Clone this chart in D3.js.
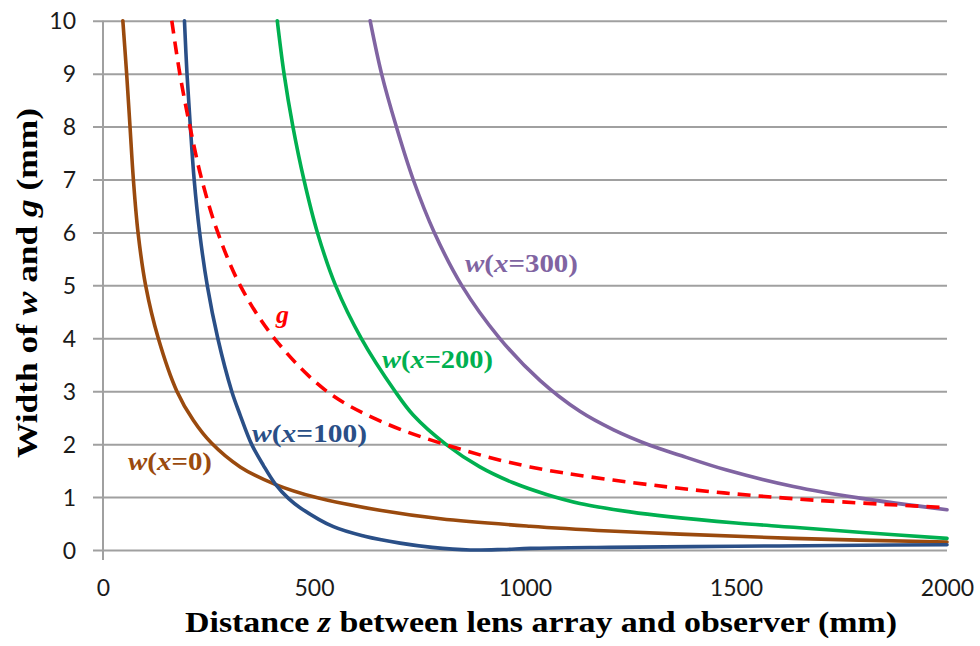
<!DOCTYPE html>
<html>
<head>
<meta charset="utf-8">
<script src="https://cdn.jsdelivr.net/npm/d3@7"></script>
<style>
  html, body { margin: 0; padding: 0; background: #fff; }
  svg { display: block; }
</style>
</head>
<body>
<svg id="chart" width="980" height="646"></svg>
<script>
// ---- data ----
const xTicks = [0, 500, 1000, 1500, 2000];
const yTicks = [0, 1, 2, 3, 4, 5, 6, 7, 8, 9, 10];

// [z (mm), width (mm)]
const wX0 = [[47,10],[56,9],[64,8],[72,7],[83,6],[101,5],[131,4],[175,3],[214,2.45],[257,2.02],[325,1.57],[408,1.24],[506,0.99],[656,0.75],[800,0.59],[1012,0.45],[1200,0.36],[1367,0.3],[1635,0.22],[2000,0.15]];
const wX100 = [[193,10],[199,9],[207,8],[216,7],[229,6],[247,5],[272,4],[305,3],[325,2.55],[352,2.0],[380,1.6],[408,1.25],[440,0.97],[467,0.8],[546,0.44],[620,0.26],[704,0.13],[780,0.05],[870,0.0],[950,0.01],[1012,0.03],[1200,0.05],[1500,0.07],[1800,0.09],[2000,0.1]];
const gSeries = [[163,10],[182,9],[206,8],[234,7],[272,6],[325,5],[406,4],[530,3],[656,2.44],[820,1.97],[1012,1.57],[1340,1.19],[1635,0.97],[2000,0.8]];
const wX200 = [[413,10],[429,9],[450,8],[476,7],[508,6],[551,5],[612,4],[692,3],[735,2.55],[812,2.0],[893,1.57],[972,1.27],[1051,1.05],[1130,0.88],[1249,0.72],[1340,0.63],[1500,0.51],[1636,0.43],[1800,0.33],[2000,0.22]];
const wX300 = [[633,10],[660,9],[695,8],[735,7],[785,6],[850,5],[940,4],[1036,3.2],[1130,2.62],[1210,2.27],[1296,1.98],[1367,1.79],[1478,1.51],[1636,1.2],[1794,0.98],[2000,0.76]];

const seriesNames = ["x=0", "x=100", "x=200", "x=300", "g"];
const seriesColors = ["#9A4A0E", "#2A4F87", "#00B050", "#8064A2", "#FF0000"];

// ---- layout ----
const svg = d3.select("#chart");
const X = d3.scaleLinear().domain([0, 2000]).range([103, 947]);
const Y = d3.scaleLinear().domain([0, 10]).range([550, 20.7]);

svg.append("rect").attr("width", 980).attr("height", 646).attr("fill", "#fff");

svg.append("defs").append("clipPath").attr("id", "plotclip")
  .append("rect").attr("x", X(0)).attr("y", Y(10) - 3)
  .attr("width", X(2000) - X(0) + 4).attr("height", Y(0) - Y(10) + 6);

// gridlines via axis
const yGrid = d3.axisLeft(Y).tickValues(yTicks).tickSize(-(X(2000) - X(0)) - 10).tickFormat("");
const gGrid = svg.append("g").attr("transform", `translate(${X(0) - 10},0)`).call(yGrid);
gGrid.select(".domain").remove();
gGrid.selectAll("line").attr("stroke", "#A0A0A0").attr("stroke-width", 2);

// vertical axis line
svg.append("line").attr("x1", X(0)).attr("x2", X(0)).attr("y1", Y(10)).attr("y2", Y(0) + 10)
  .attr("stroke", "#A0A0A0").attr("stroke-width", 2);

// y tick labels
const yAx = d3.axisLeft(Y).tickValues(yTicks).tickSize(0).tickPadding(0).tickFormat(d3.format("d"));
const gy = svg.append("g").attr("transform", `translate(76,0)`).call(yAx);
gy.select(".domain").remove();
gy.selectAll("text").attr("font-family", "Lato, 'Open Sans', sans-serif").attr("font-size", 23)
  .attr("fill", "#1a1a1a").attr("dy", "0.36em").attr("x", 0);

// x tick labels
const xAx = d3.axisBottom(X).tickValues(xTicks).tickSize(0).tickPadding(0).tickFormat(d3.format("d"));
const gx = svg.append("g").attr("transform", `translate(0,580)`).call(xAx);
gx.select(".domain").remove();
gx.selectAll("text").attr("font-family", "Lato, 'Open Sans', sans-serif").attr("font-size", 23)
  .attr("fill", "#1a1a1a").attr("dy", "0.71em").attr("y", 0);

// lines
const line = d3.line().x(d => X(d[0])).y(d => Y(d[1])).curve(d3.curveCatmullRom.alpha(0.5));
const plot = svg.append("g").attr("clip-path", "url(#plotclip)");
const allSeries = [wX0, wX100, wX200, wX300, gSeries];
allSeries.forEach((s, i) => {
  const p = plot.append("path").datum(s).attr("d", line).attr("fill", "none")
    .attr("stroke", seriesColors[i]).attr("stroke-width", 3.6)
    .attr("stroke-linejoin", "round");
  if (seriesNames[i] === "g") p.attr("stroke-dasharray", "13,8");
  else p.attr("stroke-linecap", "round");
});

// in-plot labels
const serif = "'Liberation Serif', 'Times New Roman', serif";
function wLabel(txt, x, y, w, color) {
  const t = svg.append("text").attr("x", x).attr("y", y).attr("font-family", serif)
    .attr("font-weight", "bold").attr("font-size", 26).attr("fill", color)
    .attr("textLength", w).attr("lengthAdjust", "spacingAndGlyphs");
  t.append("tspan").attr("font-style", "italic").text("w");
  t.append("tspan").text("(");
  t.append("tspan").attr("font-style", "italic").text("x");
  t.append("tspan").text("=" + txt + ")");
}
wLabel("0", 128, 470, 84, seriesColors[0]);
wLabel("100", 252, 442, 115, seriesColors[1]);
wLabel("200", 382, 368, 111, seriesColors[2]);
wLabel("300", 465, 272, 113, seriesColors[3]);
svg.append("text").attr("x", 276).attr("y", 323).attr("font-family", serif)
  .attr("font-weight", "bold").attr("font-style", "italic").attr("font-size", 26)
  .attr("fill", seriesColors[4]).text("g");

// axis titles
const xt = svg.append("text").attr("x", 185).attr("y", 632).attr("font-family", serif)
  .attr("font-weight", "bold").attr("font-size", 29).attr("fill", "#000")
  .attr("textLength", 712).attr("lengthAdjust", "spacingAndGlyphs");
xt.append("tspan").text("Distance ");
xt.append("tspan").attr("font-style", "italic").text("z");
xt.append("tspan").text(" between lens array and observer (mm)");

const yt = svg.append("text").attr("transform", "translate(37,458) rotate(-90)")
  .attr("font-family", serif).attr("font-weight", "bold").attr("font-size", 29).attr("fill", "#000")
  .attr("textLength", 350).attr("lengthAdjust", "spacingAndGlyphs");
yt.append("tspan").text("Width of ");
yt.append("tspan").attr("font-style", "italic").text("w");
yt.append("tspan").text(" and ");
yt.append("tspan").attr("font-style", "italic").text("g");
yt.append("tspan").text(" (mm)");
</script>
</body>
</html>
